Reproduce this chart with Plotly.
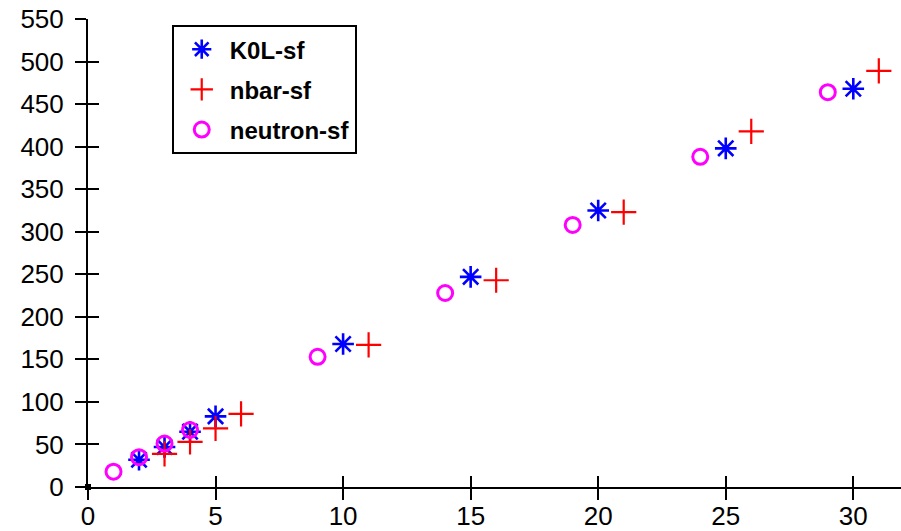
import plotly.graph_objects as go

# Data
k0l_x = [2, 3, 4, 5, 10, 15, 20, 25, 30]
k0l_y = [32, 47, 65, 83, 168, 247, 325, 398, 468]

nbar_x = [3, 4, 5, 6, 11, 16, 21, 26, 31]
nbar_y = [39, 53, 69, 86, 167, 243, 323, 418, 489]

neutron_x = [1, 2, 3, 4, 9, 14, 19, 24, 29]
neutron_y = [18, 35, 51, 67, 153, 228, 308, 388, 464]

origin_x = [0]
origin_y = [0]

x_ticks = [0, 5, 10, 15, 20, 25, 30]
y_ticks = [0, 50, 100, 150, 200, 250, 300, 350, 400, 450, 500, 550]

x_range = [0, 31.87]
y_range = [0, 550]

FONT = "Liberation Sans, Arial, sans-serif"

fig = go.Figure()
fig.add_trace(go.Scatter(
    x=k0l_x, y=k0l_y, mode="markers", name="K0L-sf", legendgroup="a",
    marker=dict(symbol="asterisk-open", size=18, color="#0000ff",
                line=dict(color="#0000ff", width=2.6))))
fig.add_trace(go.Scatter(
    x=nbar_x, y=nbar_y, mode="markers", name="nbar-sf", legendgroup="b",
    marker=dict(symbol="cross-thin-open", size=18, color="#ff0000",
                line=dict(color="#ff0000", width=2.2))))
fig.add_trace(go.Scatter(
    x=neutron_x, y=neutron_y, mode="markers", name="neutron-sf", legendgroup="c",
    marker=dict(symbol="circle-open", size=15, color="#ff00ff",
                line=dict(color="#ff00ff", width=3))))
# origin dot, drawn on the secondary (inside-tick) axes so they render
fig.add_trace(go.Scatter(
    x=origin_x, y=origin_y, mode="markers", showlegend=False,
    xaxis="x2", yaxis="y2", cliponaxis=False,
    marker=dict(symbol="square", size=6, color="black")))

axis_common = dict(showgrid=False, zeroline=False, showline=True,
                   linecolor="black", linewidth=2, tickcolor="black",
                   tickwidth=2, ticklen=11, automargin=False)

fig.update_layout(
    width=901, height=531,
    margin=dict(l=88, r=0, t=19, b=44),
    paper_bgcolor="white", plot_bgcolor="white",
    font=dict(family=FONT, color="black"),
    xaxis=dict(range=x_range, tickvals=x_ticks, ticks="outside",
               tickfont=dict(size=26, family=FONT), ticklabelstandoff=-6,
               **axis_common),
    yaxis=dict(range=y_range, tickvals=y_ticks, ticks="outside",
               tickfont=dict(size=26, family=FONT), ticklabelstandoff=6,
               **axis_common),
    xaxis2=dict(range=x_range, tickvals=x_ticks, ticks="inside",
                overlaying="x", anchor="y2", side="bottom",
                showticklabels=False, **axis_common),
    yaxis2=dict(range=y_range, tickvals=y_ticks, ticks="inside",
                overlaying="y", anchor="x2", side="left",
                showticklabels=False, **axis_common),
    legend=dict(x=0.103, y=0.987, xanchor="left", yanchor="top",
                bgcolor="white", bordercolor="black", borderwidth=2,
                font=dict(size=24, family=FONT, weight="bold"),
                tracegroupgap=6, itemsizing="trace", itemwidth=46),
    showlegend=True,
)

fig.write_html("out.html")
